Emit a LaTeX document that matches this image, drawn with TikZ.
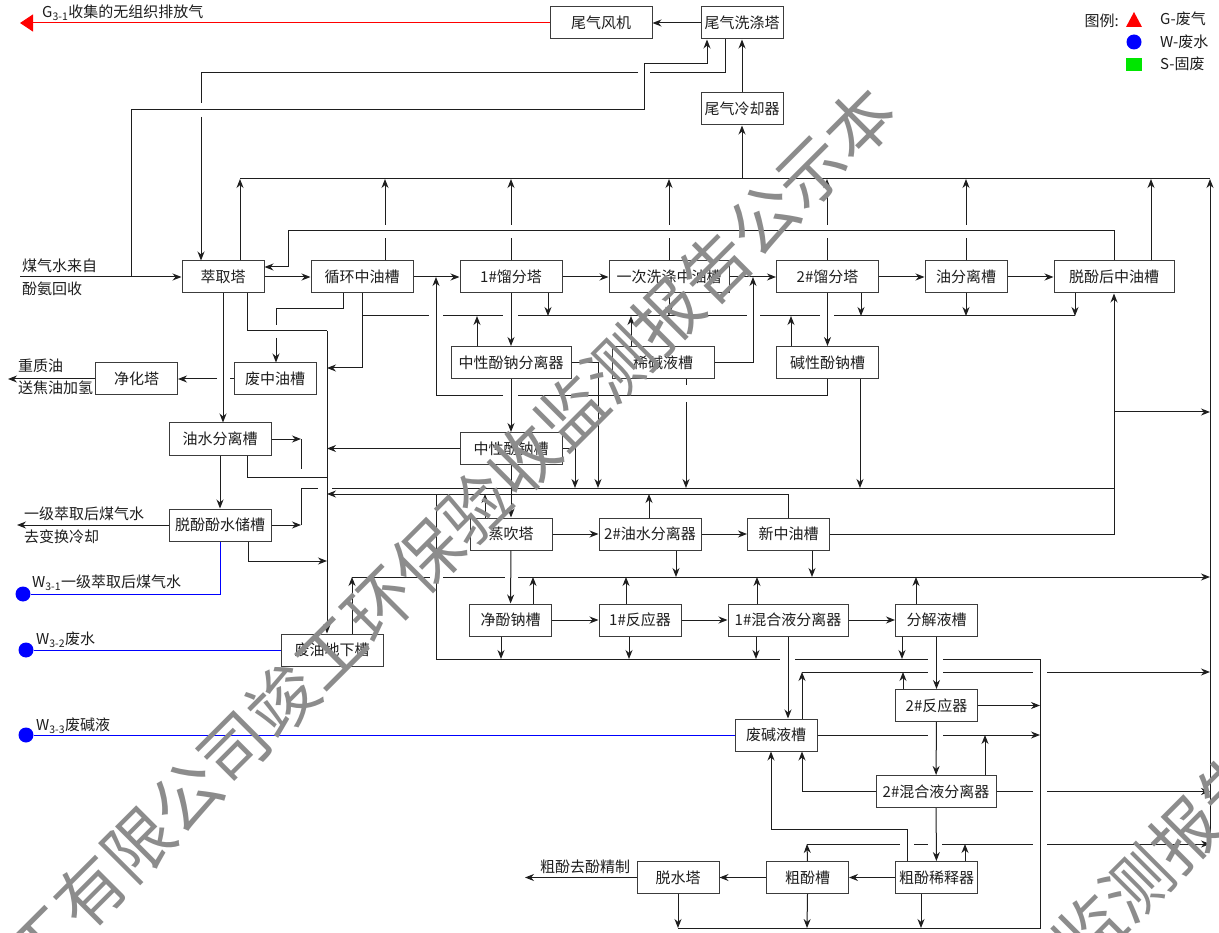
\documentclass[tikz,border=0pt]{standalone}
\usepackage{fontspec}
\setmainfont{Noto Sans CJK SC}
\usepackage{xcolor}
\usepackage{tikz}
\usetikzlibrary{arrows.meta}
\definecolor{body}{HTML}{1E1E1E}
\definecolor{frame}{HTML}{3C3C3C}
\definecolor{gasred}{HTML}{FF0000}
\definecolor{waterblue}{HTML}{0000FF}
\definecolor{solidgreen}{HTML}{00E600}
\definecolor{stamp}{HTML}{8C8C8C}
\tikzset{
  unit/.style={draw=frame, line width=1pt, minimum width=82pt, minimum height=32pt, inner sep=1pt, font=\fontsize{15}{17}\selectfont, text=body},
  wideunit/.style={unit, minimum width=102pt},
  longunit/.style={unit, minimum width=120pt},
  pipe/.style={draw=body, line width=1pt},
  flow/.style={pipe, -{Stealth[length=9pt,width=7pt]}},
  waste/.style={draw=waterblue, line width=1pt},
  dot/.style={circle, fill=waterblue, minimum size=15pt, inner sep=0pt},
  note/.style={font=\fontsize{15}{17}\selectfont, text=body, inner sep=0pt, anchor=west},
}

\begin{document}
\begin{tikzpicture}[x=1pt, y=-1pt]
  \useasboundingbox (0,0) rectangle (1219,933);
  \fill[white] (0,0) rectangle (1219,933);

  % tail gas
  \node[wideunit] (fan) at (601,23) {尾气风机};
  \node[unit] (scrub) at (742,23) {尾气洗涤塔};
  \node[unit] (cool) at (742,109) {尾气冷却器};
  % first row
  \node[unit] (ext) at (223,277) {萃取塔};
  \node[wideunit] (circ) at (362,277) {循环中油槽};
  \node[wideunit] (frac1) at (511,277) {1\#馏分塔};
  \node[longunit] (wash) at (669,277) {一次洗涤中油槽};
  \node[wideunit] (frac2) at (827.5,277) {2\#馏分塔};
  \node[unit] (oilsep) at (966,277) {油分离槽};
  \node[longunit] (dephoil) at (1114,277) {脱酚后中油槽};
  % left column
  \node[unit] (purif) at (136.5,379) {净化塔};
  \node[unit] (wasteoil) at (275,379) {废中油槽};
  \node[wideunit] (owsep) at (220,439) {油水分离槽};
  \node[wideunit] (dwtank) at (220,525) {脱酚酚水储槽};
  \node[wideunit] (pit) at (332,650) {废油地下槽};
  % phenolate
  \node[longunit] (nsep) at (511,362.5) {中性酚钠分离器};
  \node[wideunit] (dilute) at (663,362.5) {稀碱液槽};
  \node[wideunit] (alk) at (827.5,362.5) {碱性酚钠槽};
  \node[wideunit] (ntank) at (511,448.5) {中性酚钠槽};
  \node[unit] (steam) at (511,534) {蒸吹塔};
  \node[wideunit] (ows2) at (650,534) {2\#油水分离器};
  \node[unit] (newoil) at (788.5,534) {新中油槽};
  \node[unit] (pure) at (510.5,620) {净酚钠槽};
  \node[unit] (reac1) at (640,620) {1\#反应器};
  \node[longunit] (mix1) at (788,620) {1\#混合液分离器};
  \node[unit] (decomp) at (936.5,620) {分解液槽};
  \node[unit] (reac2) at (936.5,705.5) {2\#反应器};
  \node[unit] (spent) at (776,735) {废碱液槽};
  \node[longunit] (mix2) at (936,791.5) {2\#混合液分离器};
  \node[unit] (diluter) at (936.5,877.5) {粗酚稀释器};
  \node[unit] (crude) at (807.5,877.5) {粗酚槽};
  \node[unit] (dewater) at (678,877.5) {脱水塔};

  \draw[pipe, draw=gasred, -{Triangle[length=13pt,width=17pt]}] (fan.west) -- (20,23);
  \node[note] at (42,13) {G\textsubscript{3-1}收集的无组织排放气};
  \draw[flow] (scrub) -- (fan);
  \draw[flow] (cool) -- (scrub);
  \draw[flow] (742,179) -- (cool);
  \draw[flow] (725,0 |- scrub.south) -- (725,73) -- (650,73) (638,73) -- (201,73) -- (201,103) (201,117) -- (201,0 |- ext.north);
  \draw[flow] (131,277) -- (131,110) -- (644,110) -- (644,64) -- (707,64) -- (707,0 |- scrub.south);

  \draw[flow] (20,277) -- (ext);
  \node[note] at (22,266) {煤气水来自};
  \node[note] at (22,289) {酚氨回收};
  \draw[flow] (ext) -- (circ);
  \draw[flow] (circ) -- (frac1);
  \draw[flow] (frac1) -- (wash);
  \draw[flow] (wash) -- (frac2);
  \draw[flow] (frac2) -- (oilsep);
  \draw[flow] (oilsep) -- (dephoil);

  % vents up to the top header
  \draw[pipe] (240,179) -- (1210,179);
  \draw[flow] (240,0 |- ext.north) -- (240,179);
  \draw[flow] (385,0 |- circ.north) -- (385,238) (385,225) -- (385,179);
  \draw[flow] (frac1.north) -- (511,238) (511,225) -- (511,179);
  \draw[flow] (wash.north) -- (669,238) (669,225) -- (669,179);
  \draw[flow] (827,0 |- frac2.north) -- (827,238) (827,225) -- (827,179);
  \draw[flow] (oilsep.north) -- (966,238) (966,225) -- (966,179);
  \draw[flow] (1151,0 |- dephoil.north) -- (1151,179);
  \draw[flow] (dephoil.north) -- (1114,231) -- (288,231) -- (288,267) -- (ext.east |- 0,267);

  % header under the first row
  \draw[pipe] (362,316) -- (429,316) (443,316) -- (503,316) (518,316) -- (747,316) (760,316) -- (820,316) (834,316) -- (1075,316);
  \draw[flow] (362,0 |- circ.south) -- (362,368) -- (327,368);
  \draw[flow] (548,0 |- frac1.south) -- (548,316);
  \draw[flow] (wash.south) -- (669,316);
  \draw[flow] (861,0 |- frac2.south) -- (861,316);
  \draw[flow] (oilsep.south) -- (966,316);
  \draw[flow] (1075,0 |- dephoil.south) -- (1075,316);
  \draw[flow] (477,0 |- nsep.north) -- (477,316);
  \draw[flow] (631,0 |- dilute.north) -- (631,316);
  \draw[flow] (791,0 |- alk.north) -- (791,316);
  \draw[flow] (frac1) -- (nsep);
  \draw[flow] (frac2) -- (alk);
  \draw[flow] (dilute.east) -- (753,362.5) -- (753,277);
  \draw[flow] (827,0 |- alk.south) -- (827,396) -- (518,396) (503,396) -- (436,396) -- (436,277);

  % phenolate section
  \draw[flow] (nsep) -- (ntank);
  \draw[flow] (nsep.east) -- (598,362.5) -- (598,488);
  \draw[flow] (686,0 |- dilute.south) -- (686,385) (686,402) -- (686,488);
  \draw[flow] (860,0 |- alk.south) -- (860,488);
  \draw[flow] (ntank.east) -- (575,448.5) -- (575,488);
  \draw[flow] (ntank.west) -- (327,448.5);
  \draw[flow] (ntank) -- (steam);
  \draw[flow] (788,0 |- newoil.north) -- (788,494) -- (327,494);
  \draw[flow] (485,0 |- steam.north) -- (485,494);
  \draw[flow] (649,0 |- ows2.north) -- (649,494);
  \draw[flow] (steam) -- (ows2);
  \draw[flow] (ows2) -- (newoil);
  \draw[flow] (newoil.east) -- (1114,534) -- (dephoil.south);
  \draw[flow] (1114,412) -- (1210,412);

  % left column
  \draw[flow] (343,0 |- circ.south) -- (343,309) -- (276,309) -- (276,325) (276,338) -- (276,0 |- wasteoil.north);
  \draw[pipe] (247,0 |- ext.south) -- (247,331) -- (327,331);
  \draw[flow] (327,331) -- (327,0 |- pit.north);
  \draw[flow] (223,0 |- ext.south) -- (223,0 |- owsep.north);
  \draw[flow] (wasteoil.west) -- (230,379) (217,379) -- (purif.east);
  \draw[flow] (purif.west) -- (8,379);
  \node[note] at (18,366) {重质油};
  \node[note] at (18,388) {送焦油加氢};
  \draw[flow] (owsep.east) -- (301,439);
  \draw[pipe] (301,439) -- (301,469);
  \draw[flow] (owsep) -- (dwtank);
  \draw[pipe] (247,0 |- owsep.south) -- (247,477) -- (327,477);
  \draw[flow] (dwtank.east) -- (301,525);
  \draw[pipe] (301,525) -- (301,488) -- (318,488) (332,488) -- (1114,488);
  \draw[flow] (248,0 |- dwtank.south) -- (248,561) -- (327,561);
  \draw[flow] (dwtank.west) -- (17,525);
  \node[note] at (24,514) {一级萃取后煤气水};
  \node[note] at (24,537) {去变换冷却};

  % lower headers
  \draw[flow] (352,0 |- pit.north) -- (352,577);
  \draw[flow] (352,577) -- (430,577) (443,577) -- (505,577) (518,577) -- (1210,577);
  \draw[pipe] (436,494) -- (436,659) -- (780,659) (795,659) -- (928,659) (943,659) -- (1040,659) -- (1040,928) -- (678,928);
  \draw[flow] (steam) -- (pure);
  \draw[flow] (676,0 |- ows2.south) -- (676,577);
  \draw[flow] (812,0 |- newoil.south) -- (812,577);
  \draw[flow] (533,0 |- pure.north) -- (533,577);
  \draw[flow] (626,0 |- reac1.north) -- (626,577);
  \draw[flow] (757,0 |- mix1.north) -- (757,577);
  \draw[flow] (916,0 |- decomp.north) -- (916,577);
  \draw[flow] (pure) -- (reac1);
  \draw[flow] (reac1) -- (mix1);
  \draw[flow] (mix1) -- (decomp);
  \draw[flow] (501,0 |- pure.south) -- (501,659);
  \draw[flow] (629,0 |- reac1.south) -- (629,659);
  \draw[flow] (756,0 |- mix1.south) -- (756,659);
  \draw[flow] (902,0 |- decomp.south) -- (902,659);

  % alkali recovery
  \draw[flow] (decomp) -- (reac2);
  \draw[flow] (mix1.south) -- (788,0 |- spent.north);
  \draw[flow] (802,672) -- (928,672) (943,672) -- (1033,672) (1047,672) -- (1210,672);
  \draw[flow] (802,0 |- spent.north) -- (802,672);
  \draw[flow] (903,0 |- reac2.north) -- (903,672);
  \draw[flow] (reac2.east) -- (1040,705.5);
  \draw[flow] (reac2) -- (mix2);
  \draw[flow] (spent.east) -- (928,735) (943,735) -- (1040,735);
  \draw[flow] (985,0 |- mix2.north) -- (985,735);
  \draw[flow] (mix2.west) -- (802,791.5) -- (802,0 |- spent.south);
  \draw[flow] (mix2.east) -- (1033,791.5) (1047,791.5) -- (1210,791.5);
  \draw[flow] (mix2) -- (diluter);
  \draw[flow] (907,0 |- diluter.north) -- (907,829) -- (771,829) -- (771,0 |- spent.south);
  \draw[flow] (807,844) -- (900,844) (914,844) -- (928,844) (942,844) -- (1033,844) (1047,844) -- (1210,844);
  \draw[flow] (crude.north) -- (807,844);
  \draw[flow] (965,0 |- diluter.north) -- (965,844);
  \draw[flow] (diluter) -- (crude);
  \draw[flow] (crude) -- (dewater);
  \draw[flow] (dewater.west) -- (525,877.5);
  \node[note] at (540,867) {粗酚去酚精制};
  \draw[flow] (dewater.south) -- (678,928);
  \draw[flow] (crude.south) -- (807,928);
  \draw[flow] (921,0 |- diluter.south) -- (921,928);
  \draw[flow] (1210,844) -- (1210,179);

  % waste water
  \node[dot] (w31) at (23,594) {};
  \node[dot] (w32) at (26,650) {};
  \node[dot] (w33) at (26,735) {};
  \draw[waste] (dwtank.south) -- (220,594) -- (w31);
  \draw[waste] (w32) -- (pit.west);
  \draw[waste] (w33) -- (spent.west);
  \node[note] at (32,583) {W\textsubscript{3-1}一级萃取后煤气水};
  \node[note] at (36,640) {W\textsubscript{3-2}废水};
  \node[note] at (36,726) {W\textsubscript{3-3}废碱液};

  % legend
  \node[note, anchor=east] (key) at (1119,21) {图例:};
  \fill[gasred] (1126,27) -- (1142,27) -- (1134,12) -- cycle;
  \fill[waterblue] (1134,42) circle[radius=7.5pt];
  \fill[solidgreen] (1126,58) rectangle (1142,71);
  \node[note] at (1160,19) {G-废气};
  \node[note] at (1160,42) {W-废水};
  \node[note] at (1160,64) {S-固废};

  % watermark
  \begin{scope}
    \clip (0,0) rectangle (1219,933);
    \node[rotate=45, text=stamp, inner sep=0pt, font=\fontsize{68}{70}\selectfont] at (451,532) {工有限公司竣工环保验收监测报告公示本};
    \node[rotate=45, text=stamp, inner sep=0pt, font=\fontsize{68}{70}\selectfont] at (969,1051) {工有限公司竣工环保验收监测报告公示本};
  \end{scope}
\end{tikzpicture}
\end{document}
